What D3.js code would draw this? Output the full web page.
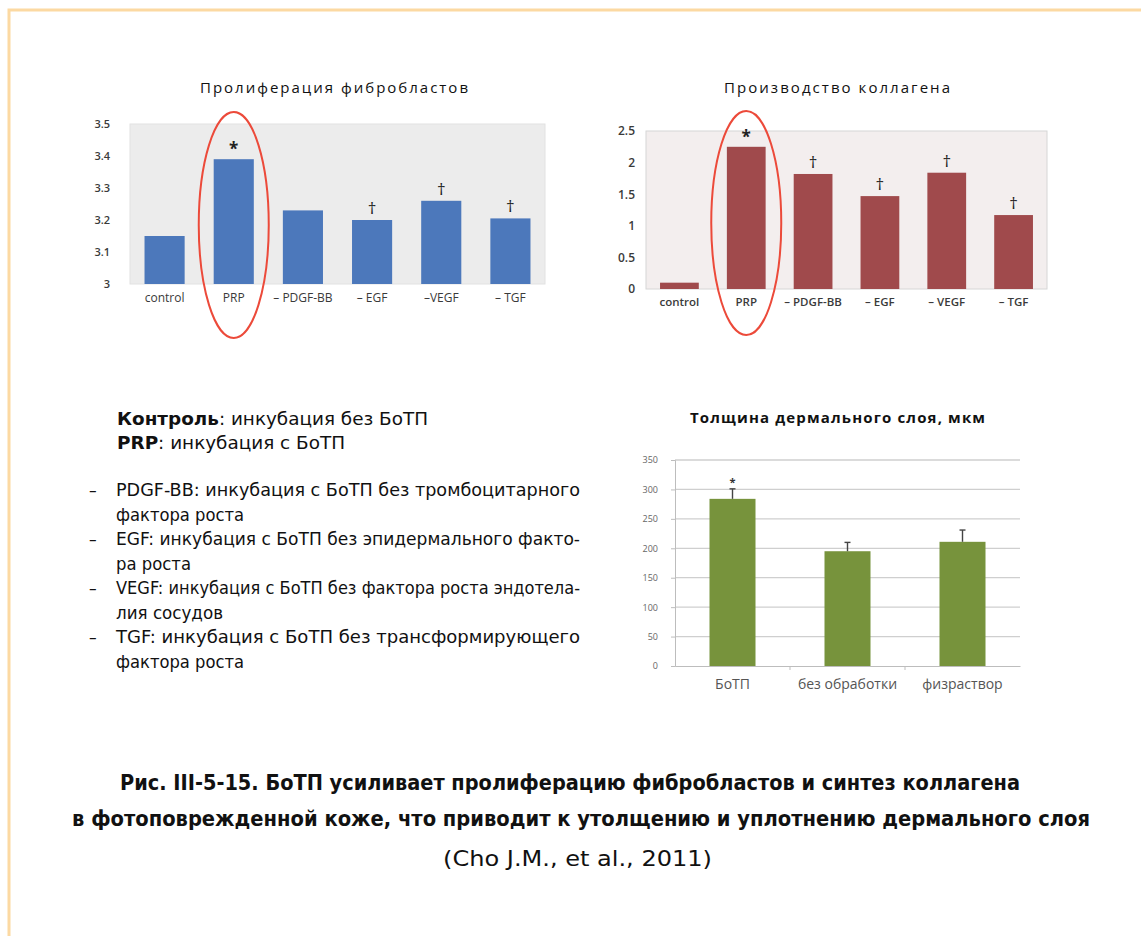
<!DOCTYPE html>
<html>
<head>
<meta charset="utf-8">
<script src="https://cdn.jsdelivr.net/npm/d3@7"></script>
<style>
  html, body { margin: 0; padding: 0; background: #fff; }
  svg { display: block; }
  .narrow { font-family: "DejaVu Sans Condensed", "Liberation Sans Narrow", "Liberation Sans", sans-serif; }
  .sans { font-family: "Open Sans", "Liberation Sans", sans-serif; }
</style>
</head>
<body>
<svg id="fig" width="1141" height="936"></svg>
<script>
// ---- data ----
const prolifCategories = ["control", "PRP", "– PDGF-BB", "– EGF", "–VEGF", "– TGF"];
const prolifValues = [3.15, 3.39, 3.23, 3.20, 3.26, 3.205];
const prolifMarks = ["", "*", "", "†", "†", "†"];
const prolifTicks = [3, 3.1, 3.2, 3.3, 3.4, 3.5];

const collagenCategories = ["control", "PRP", "– PDGF-BB", "– EGF", "– VEGF", "– TGF"];
const collagenValues = [0.1, 2.25, 1.82, 1.47, 1.84, 1.17];
const collagenMarks = ["", "*", "†", "†", "†", "†"];
const collagenTicks = [0, 0.5, 1, 1.5, 2, 2.5];

const dermisCategories = ["БоТП", "без обработки", "физраствор"];
const dermisValues = [284, 195, 211];
const dermisErrors = [17, 15, 20];
const dermisMarks = ["*", "", ""];
const dermisTicks = [0, 50, 100, 150, 200, 250, 300, 350];

const svg = d3.select("#fig");

// page frame
svg.append("path")
  .attr("d", "M9,936 V10 H1141")
  .attr("fill", "none")
  .attr("stroke", "#fcd9a2")
  .attr("stroke-width", 3);

// ---- shaded-panel bar chart (top two) ----
function panelChart(opt) {
  const g = svg.append("g");
  const x = d3.scaleBand().domain(opt.categories).range([opt.left, opt.right])
    .paddingInner(0.42).paddingOuter(0.21);
  const y = d3.scaleLinear().domain(opt.domain).range([opt.bottom, opt.top]);

  g.append("rect")
    .attr("x", opt.left).attr("y", opt.top)
    .attr("width", opt.right - opt.left).attr("height", opt.bottom - opt.top)
    .attr("fill", opt.bg).attr("stroke", opt.border).attr("stroke-width", 1);

  g.append("text").attr("class", "sans")
    .attr("x", opt.titleX - opt.titleW / 2).attr("y", opt.titleY)
    .attr("font-size", 15).attr("fill", "#111")
    .attr("textLength", opt.titleW).attr("lengthAdjust", "spacing")
    .text(opt.title);

  const yAxis = d3.axisLeft(y).tickValues(opt.ticks).tickSize(0).tickPadding(0)
    .tickFormat(d => String(d));
  g.append("g").attr("transform", `translate(${opt.left - opt.tickGap},0)`).call(yAxis)
    .call(a => a.select(".domain").remove())
    .call(a => a.selectAll("text").attr("class", "sans").attr("font-size", opt.tickSize)
      .attr("font-weight", 600).attr("fill", "#3a3a3a"));

  const xAxis = d3.axisBottom(x).tickSize(0).tickPadding(0);
  g.append("g").attr("transform", `translate(0,${opt.bottom + 9})`).call(xAxis)
    .call(a => a.select(".domain").remove())
    .call(a => a.selectAll("text").attr("class", "sans").attr("font-size", opt.labelSize)
      .attr("font-weight", opt.labelWeight).attr("fill", "#3a3a3a"));

  g.selectAll("rect.bar").data(opt.values).join("rect").attr("class", "bar")
    .attr("x", (d, i) => x(opt.categories[i]))
    .attr("y", d => y(d))
    .attr("width", x.bandwidth())
    .attr("height", d => opt.bottom - y(d))
    .attr("fill", opt.color);

  g.selectAll("text.mark").data(opt.marks).join("text").attr("class", "mark sans")
    .attr("x", (d, i) => x(opt.categories[i]) + x.bandwidth() / 2)
    .attr("y", (d, i) => y(opt.values[i]) - (d === "*" ? 4 : 6))
    .attr("text-anchor", "middle")
    .attr("font-size", d => d === "*" ? 17 : 17)
    .attr("font-weight", d => d === "*" ? 700 : 400)
    .attr("fill", "#222")
    .text(d => d);

  // highlight ring round the PRP column
  g.append("ellipse")
    .attr("cx", x("PRP") + x.bandwidth() / 2)
    .attr("cy", opt.ringCy).attr("rx", 35).attr("ry", opt.ringRy)
    .attr("fill", "none").attr("stroke", "#ec4a3a").attr("stroke-width", 2);
}

panelChart({
  categories: prolifCategories, values: prolifValues, marks: prolifMarks, ticks: prolifTicks,
  domain: [3, 3.5], left: 130, right: 545, top: 124, bottom: 284,
  bg: "#ececec", border: "#e2e2e2", color: "#4c78bb",
  labelWeight: 400, labelSize: 12, tickSize: 11, tickGap: 20,
  title: "Пролиферация фибробластов", titleX: 334, titleY: 93, titleW: 268,
  ringCy: 225, ringRy: 113
});

panelChart({
  categories: collagenCategories, values: collagenValues, marks: collagenMarks, ticks: collagenTicks,
  domain: [0, 2.5], left: 646, right: 1047, top: 131, bottom: 289,
  bg: "#f3eeee", border: "#d6d6d6", color: "#a04a4c",
  labelWeight: 600, labelSize: 11.5, tickSize: 12, tickGap: 11,
  title: "Производство коллагена", titleX: 837, titleY: 93, titleW: 226,
  ringCy: 223, ringRy: 112
});

// ---- dermal thickness chart with error bars ----
(function () {
  const left = 675, right = 1020, top = 460, bottom = 666;
  const g = svg.append("g");
  const x = d3.scaleBand().domain(dermisCategories).range([left, right])
    .paddingInner(0.6).paddingOuter(0.3);
  const y = d3.scaleLinear().domain([0, 350]).range([bottom, top]);

  g.append("text").attr("class", "sans")
    .attr("x", 690).attr("y", 423)
    .attr("font-size", 15).attr("font-weight", 700).attr("fill", "#111")
    .attr("textLength", 295).attr("lengthAdjust", "spacing")
    .text("Толщина дермального слоя, мкм");

  g.selectAll("line.grid").data(dermisTicks.filter(d => d > 0)).join("line").attr("class", "grid")
    .attr("x1", left).attr("x2", right)
    .attr("y1", d => y(d)).attr("y2", d => y(d))
    .attr("stroke", "#cfcfcf").attr("stroke-width", 1.3);

  const yAxis = d3.axisLeft(y).tickValues(dermisTicks).tickSize(4).tickPadding(13);
  g.append("g").attr("transform", `translate(${left},0)`).call(yAxis)
    .call(a => a.select(".domain").attr("stroke", "#bdbdbd"))
    .call(a => a.selectAll(".tick line").attr("stroke", "#bdbdbd"))
    .call(a => a.selectAll("text").attr("class", "sans").attr("font-size", 9)
      .attr("fill", "#666"));

  const xAxis = d3.axisBottom(x).tickSize(0).tickPadding(13);
  g.append("g").attr("transform", `translate(0,${bottom})`).call(xAxis)
    .call(a => a.select(".domain").attr("stroke", "#bdbdbd"))
    .call(a => a.selectAll("text").attr("class", "sans").attr("font-size", 14)
      .attr("fill", "#555"));

  // small ticks between categories
  g.selectAll("line.sep").data(dermisCategories.slice(1)).join("line").attr("class", "sep")
    .attr("x1", d => x(d) - x.step() * x.paddingInner() / 2)
    .attr("x2", d => x(d) - x.step() * x.paddingInner() / 2)
    .attr("y1", bottom).attr("y2", bottom + 4).attr("stroke", "#bdbdbd");

  g.selectAll("rect.bar").data(dermisValues).join("rect").attr("class", "bar")
    .attr("x", (d, i) => x(dermisCategories[i]))
    .attr("y", d => y(d))
    .attr("width", x.bandwidth())
    .attr("height", d => bottom - y(d))
    .attr("fill", "#77933c");

  const cx = i => x(dermisCategories[i]) + x.bandwidth() / 2;
  g.selectAll("line.err").data(dermisValues).join("line").attr("class", "err")
    .attr("x1", (d, i) => cx(i)).attr("x2", (d, i) => cx(i))
    .attr("y1", d => y(d)).attr("y2", (d, i) => y(d + dermisErrors[i]))
    .attr("stroke", "#444").attr("stroke-width", 1.4);
  g.selectAll("line.cap").data(dermisValues).join("line").attr("class", "cap")
    .attr("x1", (d, i) => cx(i) - 3).attr("x2", (d, i) => cx(i) + 3)
    .attr("y1", (d, i) => y(d + dermisErrors[i])).attr("y2", (d, i) => y(d + dermisErrors[i]))
    .attr("stroke", "#444").attr("stroke-width", 1.4);
  g.selectAll("text.mark").data(dermisMarks).join("text").attr("class", "mark sans")
    .attr("x", (d, i) => cx(i))
    .attr("y", (d, i) => y(dermisValues[i] + dermisErrors[i]) - 3)
    .attr("text-anchor", "middle").attr("font-size", 11).attr("font-weight", 700).attr("fill", "#333")
    .text(d => d);
})();

// ---- legend text ----
const notes = svg.append("g").attr("class", "narrow").attr("fill", "#111");
const head = [
  { b: "Контроль", t: ": инкубация без БоТП", y: 425, w: 311 },
  { b: "PRP", t: ": инкубация с БоТП", y: 449, w: 228 }
];
head.forEach(h => {
  const t = notes.append("text").attr("x", 117).attr("y", h.y).attr("font-size", 18)
    .attr("textLength", h.w).attr("lengthAdjust", "spacingAndGlyphs");
  t.append("tspan").attr("font-weight", 700).text(h.b);
  t.append("tspan").text(h.t);
});

const items = [
  { dash: true, text: "PDGF-BB: инкубация с БоТП без тромбоцитарного", y: 496, w: 464 },
  { dash: false, text: "фактора роста", y: 521, w: 128 },
  { dash: true, text: "EGF: инкубация с БоТП без эпидермального факто-", y: 545, w: 464 },
  { dash: false, text: "ра роста", y: 570, w: 75 },
  { dash: true, text: "VEGF: инкубация с БоТП без фактора роста эндотела-", y: 594, w: 464 },
  { dash: false, text: "лия сосудов", y: 619, w: 107 },
  { dash: true, text: "TGF: инкубация с БоТП без трансформирующего", y: 643, w: 464 },
  { dash: false, text: "фактора роста", y: 668, w: 128 }
];
items.forEach(it => {
  if (it.dash) notes.append("text").attr("x", 89).attr("y", it.y).attr("font-size", 17).text("–");
  notes.append("text").attr("x", 116).attr("y", it.y).attr("font-size", 17)
    .attr("textLength", it.w).attr("lengthAdjust", "spacingAndGlyphs")
    .text(it.text);
});

// ---- caption ----
const cap = svg.append("g").attr("class", "narrow").attr("fill", "#111");
const c1 = cap.append("text").attr("x", 120).attr("y", 790).attr("font-size", 22)
  .attr("font-weight", 700).attr("textLength", 900).attr("lengthAdjust", "spacingAndGlyphs");
c1.append("tspan").text("Рис. III-5-15. ");
c1.append("tspan").text("БоТП усиливает пролиферацию фибробластов и синтез коллагена");
cap.append("text").attr("x", 72).attr("y", 826).attr("font-size", 22).attr("font-weight", 700)
  .attr("textLength", 1018).attr("lengthAdjust", "spacingAndGlyphs")
  .text("в фотоповрежденной коже, что приводит к утолщению и уплотнению дермального слоя");
cap.append("text").attr("x", 443).attr("y", 866).attr("font-size", 22)
  .attr("textLength", 269).attr("lengthAdjust", "spacingAndGlyphs")
  .text("(Cho J.M., et al., 2011)");
</script>
</body>
</html>
